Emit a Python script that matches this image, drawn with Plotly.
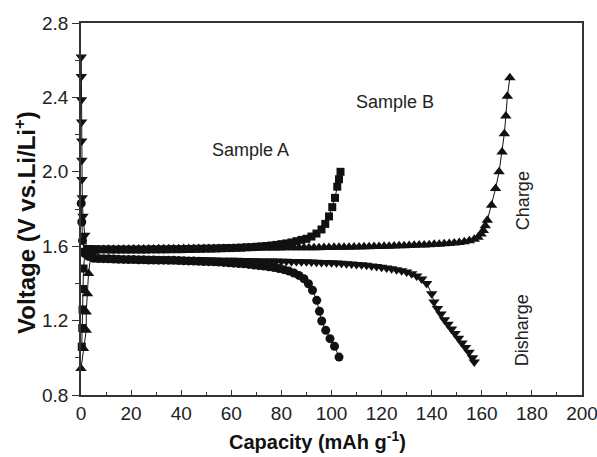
import plotly.graph_objects as go

# ---------------- data ----------------
# Sample A, charge (squares)
a_charge_x = [0.3, 0.5, 0.6, 0.8, 1.0, 1.6, 2.5,
              4, 6, 8, 10, 12, 14, 16, 18, 20, 22, 24, 26, 28, 30, 32, 34, 36, 38, 40,
              42, 44, 46, 48, 50, 52, 54, 56, 58, 60, 62, 64, 66, 68, 70, 72, 74, 76, 78,
              80, 82, 84,
              86, 88, 90, 92, 94, 96, 97.5, 99, 100.3, 101.4, 102.3, 103, 103.6]
a_charge_v = [1.06, 1.16, 1.26, 1.37, 1.48, 1.57, 1.585,
              1.585, 1.584, 1.583, 1.583, 1.582, 1.582, 1.582, 1.582, 1.582, 1.582, 1.582,
              1.582, 1.583, 1.583, 1.583, 1.583, 1.584, 1.584, 1.584, 1.585, 1.585, 1.586,
              1.586, 1.587, 1.587, 1.588, 1.589, 1.590, 1.590, 1.591, 1.592, 1.594, 1.595,
              1.597, 1.599, 1.601, 1.604, 1.607, 1.611, 1.615, 1.620,
              1.627, 1.634, 1.640, 1.652, 1.668, 1.690, 1.720, 1.760, 1.810, 1.860, 1.920,
              1.960, 2.000]

# Sample A, discharge (circles)
a_dis_x = [0.1, 0.3, 0.6, 1.5, 3,
           5, 7, 9, 11, 13, 15, 17, 19, 21, 23, 25, 27, 29, 31, 33, 35, 37, 39, 41, 43,
           45, 47, 49, 51, 53, 55, 57, 59, 61, 63, 65, 67, 69, 71, 73, 75, 77, 79,
           81, 83, 85, 87, 89, 90.8, 92.4, 94.1, 95.2, 96.1, 97.7, 99.4, 101.2, 103]
a_dis_v = [1.83, 1.73, 1.63, 1.56, 1.545,
           1.535, 1.534, 1.533, 1.532, 1.531, 1.530, 1.529, 1.528, 1.528, 1.527, 1.527,
           1.526, 1.526, 1.525, 1.525, 1.524, 1.524, 1.523, 1.522, 1.521, 1.520, 1.519,
           1.518, 1.517, 1.516, 1.515, 1.513, 1.511, 1.509, 1.507, 1.505, 1.502, 1.499,
           1.496, 1.493, 1.489, 1.485, 1.480,
           1.474, 1.466, 1.456, 1.443, 1.425, 1.398, 1.363, 1.309, 1.250, 1.198, 1.148,
           1.103, 1.062, 1.004]

# Sample B, discharge (down triangles)
b_dis_x = [0.1, 0.15, 0.2, 0.25, 0.3, 0.35, 0.4, 0.5, 0.8, 1.5, 2.5, 4,
           6, 8, 10, 12, 14, 16, 18, 20, 22, 24, 26, 28, 30, 32, 34, 36, 38, 40, 42, 44,
           46, 48, 50, 52, 54, 56, 58, 60, 62, 64, 66, 68, 70, 72, 74, 76, 78, 80, 82, 84,
           86, 88, 90, 92, 94, 96, 98, 100, 102, 104, 106, 108, 110, 112, 114, 116, 118,
           120, 122, 124, 126, 128, 130, 132, 134, 136,
           138, 140, 140.9, 142.3, 143.7, 145.1, 146.5, 147.9, 149.3, 150.7, 152.1,
           153.5, 154.9, 156.3, 157]
b_dis_v = [2.617, 2.513, 2.388, 2.268, 2.166, 2.062, 1.958, 1.861, 1.761, 1.659, 1.575, 1.545,
           1.537, 1.536, 1.535, 1.535, 1.534, 1.534, 1.533, 1.533, 1.532, 1.532, 1.531,
           1.531, 1.530, 1.530, 1.530, 1.529, 1.529, 1.528, 1.528, 1.527, 1.527, 1.527,
           1.526, 1.526, 1.525, 1.525, 1.525, 1.524, 1.524, 1.523, 1.523, 1.522, 1.522,
           1.521, 1.521, 1.520, 1.520, 1.519, 1.519, 1.518, 1.518, 1.517, 1.516, 1.515,
           1.514, 1.513, 1.512, 1.511, 1.510, 1.508, 1.506, 1.504, 1.502, 1.500, 1.497,
           1.494, 1.491, 1.487, 1.483, 1.479, 1.474, 1.468, 1.461, 1.452, 1.440, 1.424,
           1.400, 1.345, 1.300, 1.265, 1.235, 1.205, 1.180, 1.155, 1.130, 1.105, 1.080,
           1.055, 1.030, 1.000, 0.978]

# Sample B, charge (up triangles)
b_charge_x = [0.0, 1.0, 2.1, 2.1, 2.6, 3.0, 4.0,
              5, 7, 9, 11, 13, 15, 17, 19, 21, 23, 25, 27, 29, 31, 33, 35, 37, 39, 41, 43,
              45, 47, 49, 51, 53, 55, 57, 59, 61, 63, 65, 67, 69, 71, 73, 75, 77, 79, 81,
              83, 85, 87, 89, 91, 93, 95, 97, 99, 101, 103, 105, 107, 109, 111, 113, 115,
              117, 119, 121, 123, 125, 127, 129, 131, 133, 135, 137, 139, 141, 143, 145,
              147, 149, 151, 153, 155,
              157, 158.5, 159.7, 160.6, 161.4, 162.2, 163.9, 165.5, 166.9, 168.1, 169,
              169.6, 170.2, 171.2]
b_charge_v = [0.942, 1.05, 1.148, 1.246, 1.345, 1.453, 1.56,
              1.572, 1.579, 1.582, 1.583, 1.584, 1.584, 1.584, 1.584, 1.585, 1.585, 1.585,
              1.585, 1.585, 1.586, 1.586, 1.586, 1.586, 1.586, 1.587, 1.587, 1.587, 1.587,
              1.587, 1.588, 1.588, 1.588, 1.588, 1.588, 1.589, 1.589, 1.589, 1.589, 1.589,
              1.590, 1.590, 1.590, 1.590, 1.590, 1.591, 1.591, 1.591, 1.591, 1.592, 1.592,
              1.592, 1.592, 1.593, 1.593, 1.594, 1.594, 1.595, 1.595, 1.596, 1.596, 1.597,
              1.597, 1.598, 1.599, 1.600, 1.600, 1.601, 1.602, 1.603, 1.604, 1.605, 1.606,
              1.607, 1.608, 1.610, 1.611, 1.613, 1.615, 1.617, 1.620, 1.624, 1.629,
              1.637, 1.648, 1.665, 1.685, 1.710, 1.739, 1.820, 1.910, 2.000, 2.106, 2.205,
              2.300, 2.406, 2.506]

x_ticks = [0, 20, 40, 60, 80, 100, 120, 140, 160, 180, 200]
y_ticks = [0.8, 1.2, 1.6, 2.0, 2.4, 2.8]
y_tick_text = ["0.8", "1.2", "1.6", "2.0", "2.4", "2.8"]

# ---------------- figure ----------------
FONT = "Liberation Sans, Arial, sans-serif"
INK = "#111111"

fig = go.Figure()

def add_series(x, y, symbol, size):
    fig.add_trace(go.Scatter(
        x=x, y=y, mode="lines+markers",
        line=dict(color=INK, width=1),
        marker=dict(symbol=symbol, size=size, color=INK, line=dict(width=0)),
        showlegend=False, cliponaxis=False,
    ))

add_series(a_charge_x, a_charge_v, "square", 8)
add_series(a_dis_x, a_dis_v, "circle", 9)
add_series(b_dis_x, b_dis_v, "triangle-down", 10)
add_series(b_charge_x, b_charge_v, "triangle-up", 10)

axis_line = dict(showline=True, linecolor="#333333", linewidth=1.5, mirror=True,
                 showgrid=False, zeroline=False, automargin=False,
                 ticklabeloverflow="allow")

fig.update_xaxes(
    range=[0, 200], tickmode="array", tickvals=x_ticks,
    ticks="inside", ticklen=5, tickwidth=1.2, tickcolor="#333333",
    minor=dict(dtick=10, tick0=0, ticks="inside", ticklen=3, tickwidth=1.2, tickcolor="#333333"),
    tickfont=dict(family=FONT, size=19, color="#222222"),
    **axis_line,
)
fig.update_yaxes(
    range=[0.8, 2.8], tickmode="array", tickvals=y_ticks, ticktext=y_tick_text,
    ticks="outside", ticklen=7, tickwidth=1.2, tickcolor="#333333",
    minor=dict(dtick=0.2, tick0=0.8, ticks="outside", ticklen=4, tickwidth=1.2, tickcolor="#333333"),
    tickfont=dict(family=FONT, size=19, color="#222222"),
    **axis_line,
)

ann_font = dict(family=FONT, size=18, color="#222222")
annotations = [
    dict(x=67.6, y=2.115, xref="x", yref="y", text="Sample A", showarrow=False, font=ann_font),
    dict(x=125.4, y=2.375, xref="x", yref="y", text="Sample B", showarrow=False, font=ann_font),
    dict(x=176.4, y=1.847, xref="x", yref="y", text="Charge", textangle=-90, showarrow=False, font=ann_font),
    dict(x=176.4, y=1.147, xref="x", yref="y", text="Disharge", textangle=-90, showarrow=False, font=ann_font),
    dict(x=0.473, y=-0.121, xref="paper", yref="paper", xanchor="center", yanchor="middle",
         text="<b>Capacity (mAh g<sup>-1</sup>)</b>",
         showarrow=False, font=dict(family=FONT, size=20, color="#111111")),
    dict(x=-0.112, y=0.465, xref="paper", yref="paper", xanchor="center", yanchor="middle",
         text="<b>Voltage (V vs.Li/Li<sup>+</sup>)</b>",
         textangle=-90, showarrow=False, font=dict(family=FONT, size=24, color="#111111")),
]

fig.update_layout(
    width=597, height=457,
    margin=dict(l=81, r=15, t=23, b=62, pad=0),
    paper_bgcolor="white", plot_bgcolor="white",
    annotations=annotations,
    showlegend=False,
)

fig.write_html("out.html",
               config={"displayModeBar": False},
               post_script="document.body.style.margin='0';document.body.style.overflow='hidden';")
